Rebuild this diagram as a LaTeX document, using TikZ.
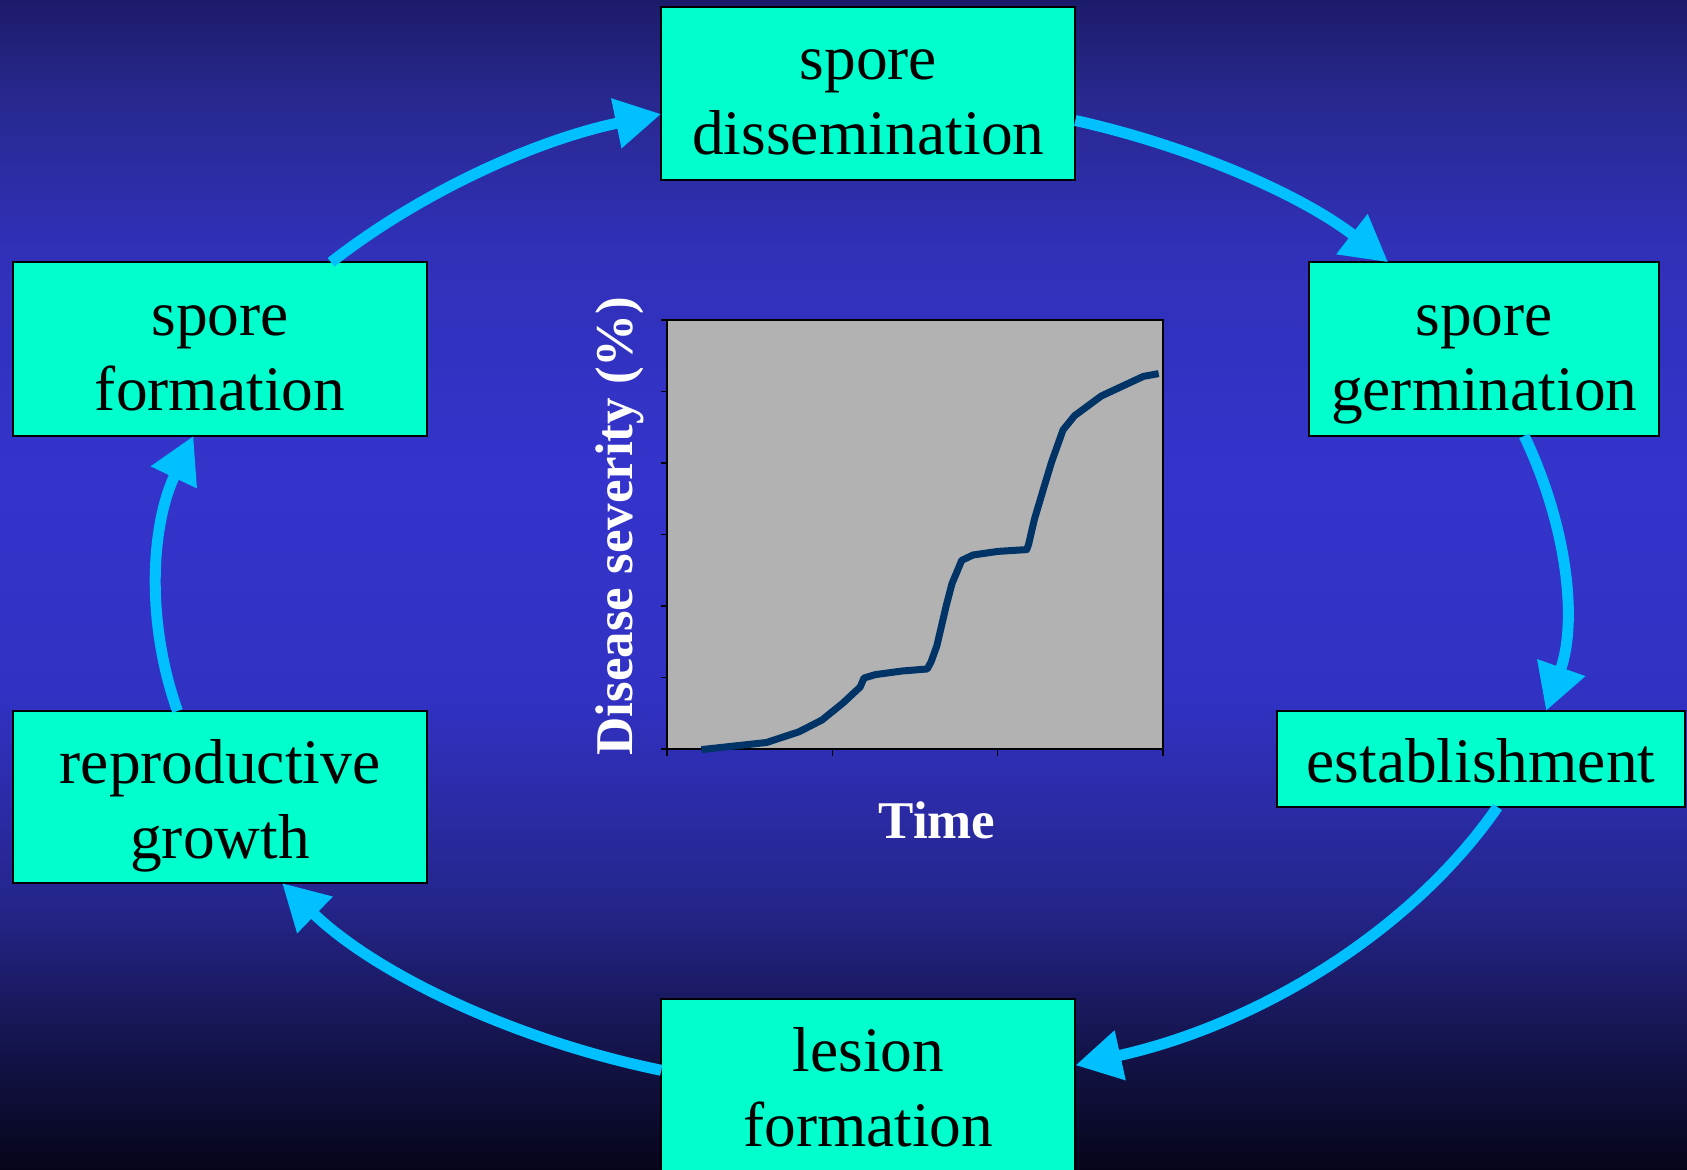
\documentclass[tikz,border=0pt]{standalone}
\usepackage{fontspec}
\setmainfont{Liberation Serif}
\usetikzlibrary{arrows.meta}
\definecolor{c0}{RGB}{28,27,106}
\definecolor{c1}{RGB}{40,40,143}
\definecolor{c2}{RGB}{48,48,184}
\definecolor{c3}{RGB}{52,52,204}
\definecolor{c4}{RGB}{49,49,194}
\definecolor{c5}{RGB}{37,37,140}
\definecolor{c6}{RGB}{18,18,68}
\definecolor{c7}{RGB}{5,5,26}
\definecolor{boxfill}{RGB}{0,255,204}
\definecolor{arrowblue}{RGB}{0,192,255}
\definecolor{plotgray}{RGB}{178,178,178}
\definecolor{curvenavy}{RGB}{0,51,102}
\pgfdeclareverticalshading{bgshade}{100bp}{color(0bp)=(c7); color(25bp)=(c7); color(29.5bp)=(c6); color(36.5bp)=(c5); color(45bp)=(c4); color(54.5bp)=(c3); color(64.5bp)=(c2); color(70.75bp)=(c1); color(75bp)=(c0); color(100bp)=(c0)}
\newcommand{\lst}{\rule[-13.5pt]{0pt}{75pt}}
\begin{document}
\begin{tikzpicture}[x=1pt,y=1pt,
  stage/.style={draw=black, line width=2pt, fill=boxfill, inner sep=0pt, outer sep=0pt,
    align=center, font=\fontsize{63.4}{75}\selectfont, text=black},
  cyc/.style={draw=arrowblue, line width=11pt, -{Triangle[length=46pt,width=48pt]}},
  axlab/.style={text=white, font=\fontsize{53}{60}\selectfont\bfseries, inner sep=0pt},
  curve/.style={draw=curvenavy, line width=7pt, line join=round, line cap=butt}]
\useasboundingbox (0,0) rectangle (1687,1170);
\clip (0,0) rectangle (1687,1170);
\fill[shading=bgshade] (0,0) rectangle (1687,1170);

% nodes
\node[stage, minimum width=414pt, minimum height=173pt] (sd) at (868.3,1076.5) {\lst spore\\\lst dissemination};
\node[stage, minimum width=350pt, minimum height=173.5pt] (sg) at (1484.2,820.9) {\lst spore\\\lst germination};
\node[stage, minimum width=408pt, minimum height=96pt] (es) at (1481,411) {\lst establishment};
\node[stage, minimum width=414pt, minimum height=172pt] (lf) at (868.3,84.7) {\lst lesion\\\lst formation};
\node[stage, minimum width=414.5pt, minimum height=172pt] (rg) at (220,373) {\lst reproductive\\\lst growth};
\node[stage, minimum width=414.5pt, minimum height=173.5pt] (sfo) at (220,820.9) {\lst spore\\\lst formation};

% cycle arrows
\draw[cyc] ([xshift=111pt]sfo.north) .. controls +(87.7,68.8) and +(-126.4,-26.2) .. ([yshift=-20.5pt]sd.west);
\draw[cyc] ([yshift=-27pt]sd.east) .. controls +(120.0,-26.8) and +(-84.1,65.5) .. ([xshift=-96pt]sg.north);
\draw[cyc] ([xshift=40pt]sg.south) .. controls +(42.5,-88.8) and +(32.0,90.9) .. ([xshift=65pt]es.north);
\draw[cyc] ([xshift=16.5pt]es.south) .. controls +(-84.7,-122.5) and +(185.5,41.2) .. ([yshift=20pt]lf.east);
\draw[cyc] ([yshift=15pt]lf.west) .. controls +(-150.7,31.0) and +(91.9,-89.1) .. ([xshift=62pt]rg.south);
\draw[cyc] ([xshift=-42.5pt]rg.north) .. controls +(-32.2,90.9) and +(-42.3,-88.9) .. ([xshift=-26.5pt]sfo.south);

% chart
\draw[fill=plotgray, line width=2pt] (667,421) rectangle (1163,850);
\foreach \k in {0,...,6} \draw[line width=1.5pt] (667,421+71.5*\k) -- ++(-6,0);
\foreach \k in {0,...,3} \draw[line width=1.5pt] (667+165.33*\k,421) -- ++(0,-7);
\draw[curve] (701.4,420.4) -- (766.5,427.5) -- (799,438.2) -- (822,450) -- (843,467)
  -- (860.2,483) -- (864,492) -- (875.5,495.4) -- (902.3,499) -- (927.2,501)
  -- (931,508) -- (936.8,524) -- (946.4,565) -- (952,586.4) -- (961.7,609.6)
  -- (973,615) -- (998,618.6) -- (1026.7,620.4) -- (1028.6,625.7) -- (1034.4,650.7)
  -- (1044,683) -- (1051.6,708) -- (1063,740) -- (1074.6,754.3) -- (1101.3,774)
  -- (1143.4,793.6) -- (1158.7,796.4);
\node[axlab, rotate=90, anchor=base] (ylab) at (632.5,644) {Disease severity (\%)};
\node[axlab, anchor=base] (xlab) at (937,331) {Time};
\end{tikzpicture}
\end{document}
